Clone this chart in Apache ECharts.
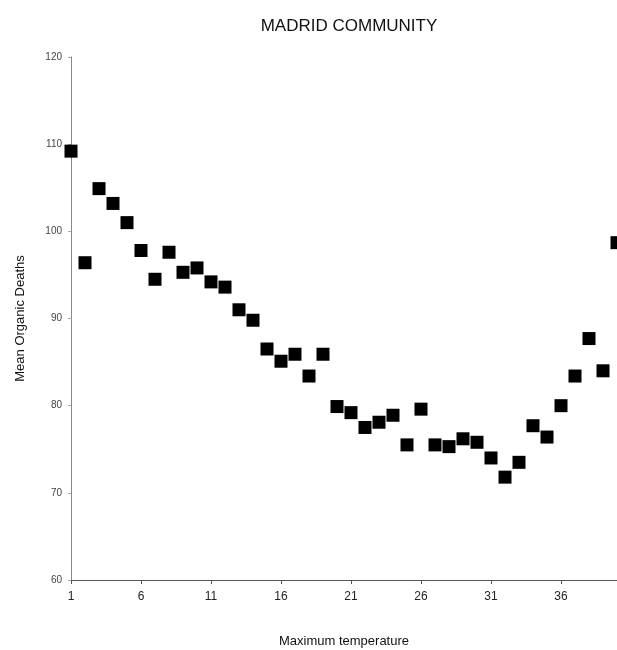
<!DOCTYPE html>
<html>
<head>
<meta charset="utf-8">
<script src="https://cdn.jsdelivr.net/npm/echarts@6/dist/echarts.min.js"></script>
<style>
    html, body { margin: 0; padding: 0; background: #fff; }
    #chart { width: 617px; height: 650px; }
</style>
</head>
<body>
<div id="chart"></div>
<script>
// max temperature (x) and mean organic deaths (y)
var temps = [1, 2, 3, 4, 5, 6, 7, 8, 9, 10,
    11, 12, 13, 14, 15, 16, 17, 18, 19, 20,
    21, 22, 23, 24, 25, 26, 27, 28, 29, 30,
    31, 32, 33, 34, 35, 36, 37, 38, 39, 40];
var deaths = [109.2, 96.4, 104.9, 103.2, 101.0, 97.8, 94.5, 97.6, 95.3, 95.8,
    94.2, 93.6, 91.0, 89.8, 86.5, 85.1, 85.9, 83.4, 85.9, 79.9,
    79.2, 77.5, 78.1, 78.9, 75.5, 79.6, 75.5, 75.3, 76.2, 75.8,
    74.0, 71.8, 73.5, 77.7, 76.4, 80.0, 83.4, 87.7, 84.0, 98.7];

var points = temps.map(function (t, i) {
    return [t, deaths[i]];
});

var myChart = echarts.init(document.getElementById('chart'));
myChart.setOption({
    animation: false,
    backgroundColor: '#fff',
    title: {
        text: 'MADRID COMMUNITY',
        left: 344,
        top: 13,
        textAlign: 'center',
        textStyle: {
            fontFamily: 'Liberation Sans',
            fontWeight: 'normal',
            fontSize: 17,
            color: '#111'
        }
    },
    grid: {
        left: 71,
        right: 0,
        top: 57,
        bottom: 70,
        containLabel: false,
        outerBoundsMode: 'none'
    },
    xAxis: {
        type: 'value',
        min: 1,
        max: 40,
        interval: 5,
        name: 'Maximum temperature',
        nameLocation: 'middle',
        nameGap: 55,
        nameTextStyle: {
            fontFamily: 'Liberation Sans',
            fontSize: 13,
            color: '#111'
        },
        axisLine: {lineStyle: {color: '#555', width: 1}},
        axisTick: {show: true, length: 4, lineStyle: {color: '#555'}},
        axisLabel: {
            showMaxLabel: false,
            margin: 11,
            fontFamily: 'Liberation Sans',
            fontSize: 12,
            color: '#222'
        },
        splitLine: {show: false}
    },
    yAxis: {
        type: 'value',
        min: 60,
        max: 120,
        interval: 10,
        name: 'Mean Organic Deaths',
        nameLocation: 'middle',
        nameGap: 44,
        nameTextStyle: {
            fontFamily: 'Liberation Sans',
            fontSize: 13,
            color: '#111'
        },
        axisLine: {show: true, lineStyle: {color: '#888', width: 1}},
        axisTick: {show: true, length: 3, lineStyle: {color: '#aaa'}},
        axisLabel: {
            margin: 9,
            fontFamily: 'Liberation Sans',
            fontSize: 10,
            color: '#444'
        },
        splitLine: {show: false}
    },
    series: [{
        type: 'scatter',
        symbol: 'rect',
        symbolSize: 13,
        itemStyle: {color: '#000', opacity: 1},
        data: points
    }]
});
</script>
</body>
</html>
